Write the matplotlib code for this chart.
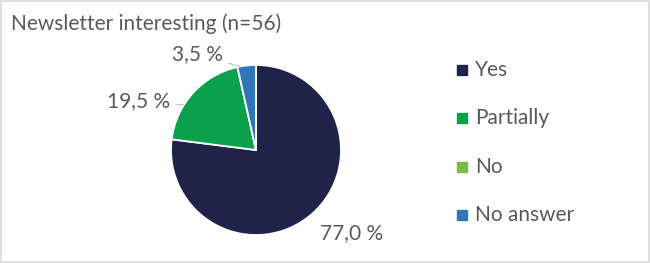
import matplotlib
matplotlib.use("Agg")
import matplotlib.pyplot as plt
from matplotlib.patches import Rectangle
import numpy as np

categories = ["Yes", "Partially", "No", "No answer"]
values = [77.0, 19.5, 0.0, 3.5]
value_labels = ["77,0 %", "19,5 %", "", "3,5 %"]
title = "Newsletter interesting (n=56)"

colors = ["#1F2349", "#0BA04B", "#7DBB45", "#2E76B7"]
text_color = "#595959"
font = "Lato"
fs = 15

fig = plt.figure(figsize=(6.5, 2.63), dpi=100)
fig.patches.append(Rectangle((0.0015, 0.003), 0.997, 0.993, transform=fig.transFigure,
                             fill=False, edgecolor="#D9D9D9", linewidth=1.2))

ax = fig.add_axes([171/650, (263-235)/263, 170/650, 170/263])
wedges, _ = ax.pie(values, colors=colors, startangle=90, counterclock=False,
                   wedgeprops=dict(edgecolor="white", linewidth=1.3))
ax.set_xlim(-1, 1)
ax.set_ylim(-1, 1)
ax.set_aspect("equal")

# label placements (relative to pie, in radii) and leader-line end angles
label_pos = [(0.75, -0.98), (-1.01, 0.58), None, (-0.39, 1.13)]
label_ha = ["left", "right", "right", "right"]
leader_deg = [None, 148, None, 101]
for lab, pos, ha, ldeg in zip(value_labels, label_pos, label_ha, leader_deg):
    if not lab or pos is None:
        continue
    if ldeg is not None:
        a = np.deg2rad(ldeg)
        ax.annotate(lab, xy=(np.cos(a), np.sin(a)), xytext=pos, ha=ha, va="center",
                    fontsize=fs, family=font, color=text_color,
                    arrowprops=dict(arrowstyle="-", color="#BFBFBF", lw=0.8,
                                    shrinkA=2, shrinkB=0),
                    annotation_clip=False)
    else:
        ax.text(pos[0], pos[1], lab, ha=ha, va="center", fontsize=fs,
                family=font, color=text_color)

fig.text(11/650, 1 - 24/263, title, ha="left", va="center", fontsize=fs,
         family=font, color=text_color)

legend_y = [70, 118, 167, 215]
for cat, col, y in zip(categories, colors, legend_y):
    fig.patches.append(Rectangle((457/650, 1 - (y + 5)/263), 10/650, 10/263,
                                 transform=fig.transFigure, color=col))
    fig.text(475/650, 1 - y/263, cat, ha="left", va="center", fontsize=fs,
             family=font, color=text_color)

fig.savefig("out.png", dpi=100)
